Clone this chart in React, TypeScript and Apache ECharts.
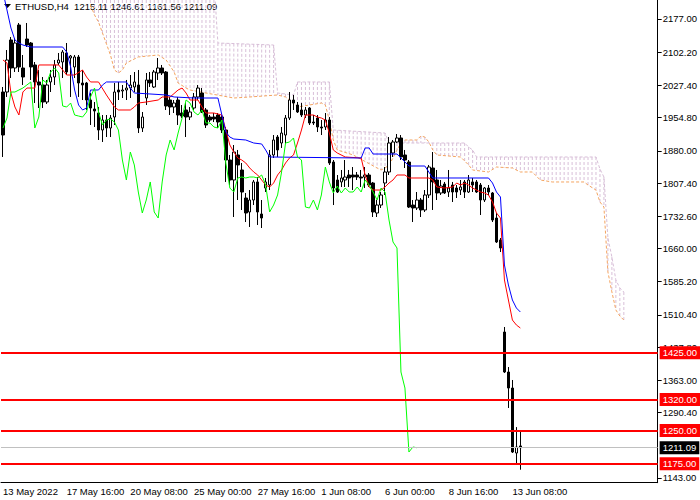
import { useEffect, useRef } from 'react';
import * as echarts from 'echarts';

const FONT = '"Liberation Sans", Arial, sans-serif';
const symbolName = 'ETHUSD,H4';

// one slot per H4 bar, labels every 16 bars
const SLOT_COUNT = 165;
const LABEL_STEP = 16;
const timeLabels = [
  '13 May 2022',
  '17 May 16:00',
  '20 May 08:00',
  '25 May 00:00',
  '27 May 16:00',
  '1 Jun 08:00',
  '6 Jun 00:00',
  '8 Jun 16:00',
  '13 Jun 08:00',
];

const PRICE_MIN = 1132.3;
const PRICE_MAX = 2219.8;
const priceTicks = [
  2177.0, 2102.2, 2027.4, 1954.8, 1880.0, 1807.4, 1732.6, 1660.0, 1585.2, 1510.4, 1437.8,
  1363.0, 1290.4, 1143.0,
];
const levels = [1425, 1320, 1250, 1175];

// [open, high, low, close]
const candles: number[][] = [
  [2012.5, 2023.8, 1866.1, 1915.6], [2012.5, 2107.1, 2001.3, 2084.6], [2129.7, 2136.4, 2044.1, 2066.6],
  [2066.6, 2134.2, 2057.6, 2122.9], [2163.5, 2168.0, 2057.6, 2068.9], [2066.6, 2095.9, 2028.3, 2046.3],
  [2131.9, 2168.0, 2113.9, 2118.4], [2122.9, 2125.2, 2039.6, 2068.9], [2073.4, 2080.1, 1987.7, 2035.1],
  [2035.1, 2062.1, 1976.5, 2028.3], [2028.3, 2046.3, 1976.5, 1990.0], [1990.0, 2039.6, 1985.5, 2028.3],
  [2035.1, 2062.1, 2012.5, 2046.3], [2046.3, 2084.6, 2028.3, 2073.4], [2077.9, 2100.4, 2073.4, 2084.6],
  [2080.1, 2107.1, 2044.1, 2102.6], [2100.4, 2122.9, 2050.8, 2057.6], [2089.1, 2095.9, 2001.3, 2093.6],
  [2068.9, 2095.9, 2044.1, 2091.4], [2091.4, 2095.9, 2001.3, 2032.8], [2032.8, 2062.1, 1994.5, 2028.3],
  [2032.8, 2035.1, 1972.0, 1994.5], [1994.5, 2010.3, 1938.2, 1976.5], [1974.2, 1990.0, 1933.7, 1969.7],
  [1965.2, 1978.7, 1904.4, 1926.9], [1926.9, 1960.7, 1899.9, 1949.4], [1949.4, 1960.7, 1911.1, 1931.4],
  [1931.4, 1960.7, 1911.1, 1953.9], [1956.2, 2032.8, 1938.2, 2012.5], [2017.0, 2035.1, 1994.5, 2012.5],
  [2014.8, 2028.3, 1999.0, 2017.0], [2017.0, 2039.6, 1994.5, 2021.5], [2021.5, 2050.8, 1999.0, 2028.3],
  [2023.8, 2057.6, 2012.5, 2035.1], [2028.3, 2062.1, 1920.1, 1931.4], [1931.4, 1967.5, 1922.4, 1956.2],
  [1999.0, 2055.3, 1983.2, 2039.6], [2039.6, 2057.6, 2023.8, 2032.8], [2023.8, 2062.1, 2021.5, 2057.6],
  [2055.3, 2089.1, 2039.6, 2066.6], [2066.6, 2073.4, 2050.8, 2055.3], [2057.6, 2059.8, 1972.0, 1981.0],
  [1994.5, 2001.3, 1960.7, 1978.7], [1978.7, 1994.5, 1965.2, 1987.7], [1994.5, 2001.3, 1938.2, 1960.7],
  [1965.2, 1983.2, 1953.9, 1958.4], [1972.0, 1987.7, 1911.1, 1956.2], [1956.2, 1978.7, 1949.4, 1967.5],
  [1976.5, 2010.3, 1972.0, 2001.3], [2001.3, 2028.3, 1994.5, 2021.5], [2010.3, 2021.5, 1965.2, 1967.5],
  [1972.0, 1976.5, 1931.4, 1938.2], [1956.2, 1960.7, 1944.9, 1949.4], [1956.2, 1965.2, 1944.9, 1951.7],
  [1960.7, 1965.2, 1931.4, 1944.9], [1956.2, 1960.7, 1920.1, 1926.9], [1926.9, 1933.7, 1809.8, 1859.3],
  [1859.3, 1870.6, 1803.0, 1814.3], [1814.3, 1893.1, 1730.9, 1877.3], [1870.6, 1881.9, 1769.2, 1848.1],
  [1836.8, 1852.6, 1746.7, 1787.2], [1773.7, 1785.0, 1719.6, 1739.9], [1742.2, 1791.7, 1708.4, 1769.2],
  [1769.2, 1814.3, 1757.9, 1809.8], [1809.8, 1821.0, 1712.9, 1742.2], [1737.7, 1769.2, 1706.1, 1728.6],
  [1796.2, 1818.8, 1787.2, 1809.8], [1803.0, 1881.9, 1791.7, 1870.6], [1870.6, 1915.6, 1863.8, 1904.4],
  [1911.1, 1915.6, 1866.1, 1881.9], [1897.6, 1933.7, 1886.4, 1920.1], [1915.6, 1960.7, 1897.6, 1953.9],
  [1953.9, 2012.5, 1949.4, 1994.5], [1994.5, 2005.8, 1972.0, 1987.7], [1983.2, 1990.0, 1965.2, 1967.5],
  [1972.0, 1987.7, 1956.2, 1960.7], [1960.7, 1978.7, 1953.9, 1972.0], [1976.5, 1978.7, 1938.2, 1942.7],
  [1944.9, 1960.7, 1938.2, 1942.7], [1953.9, 1960.7, 1922.4, 1933.7], [1933.7, 1949.4, 1915.6, 1931.4],
  [1933.7, 1965.2, 1926.9, 1949.4], [1949.4, 1956.2, 1848.1, 1852.6], [1854.8, 1859.3, 1757.9, 1796.2],
  [1814.3, 1825.5, 1785.0, 1787.2], [1809.8, 1836.8, 1798.5, 1818.8], [1814.3, 1859.3, 1798.5, 1821.0],
  [1825.5, 1836.8, 1798.5, 1818.8], [1825.5, 1843.5, 1791.7, 1821.0], [1825.5, 1832.3, 1814.3, 1821.0],
  [1821.0, 1836.8, 1798.5, 1818.8], [1821.0, 1843.5, 1796.2, 1825.5], [1825.5, 1830.0, 1798.5, 1803.0],
  [1807.5, 1809.8, 1730.9, 1742.2], [1739.9, 1769.2, 1730.9, 1757.9], [1757.9, 1787.2, 1751.2, 1780.5],
  [1807.5, 1843.5, 1780.5, 1832.3], [1832.3, 1911.1, 1825.5, 1897.6], [1875.1, 1904.4, 1866.1, 1899.9],
  [1899.9, 1917.9, 1897.6, 1908.9], [1908.9, 1915.6, 1859.3, 1866.1], [1870.6, 1881.9, 1841.3, 1859.3],
  [1854.8, 1859.3, 1751.2, 1753.4], [1757.9, 1769.2, 1719.6, 1751.2], [1751.2, 1787.2, 1746.7, 1769.2],
  [1769.2, 1773.7, 1730.9, 1746.7], [1746.7, 1791.7, 1742.2, 1780.5], [1780.5, 1848.1, 1773.7, 1843.5],
  [1841.3, 1877.3, 1746.7, 1809.8], [1814.3, 1836.8, 1769.2, 1785.0], [1785.0, 1814.3, 1780.5, 1800.7],
  [1805.2, 1809.8, 1782.7, 1785.0], [1787.2, 1836.8, 1776.0, 1796.2], [1803.0, 1809.8, 1764.7, 1787.2],
  [1796.2, 1803.0, 1773.7, 1787.2], [1791.7, 1814.3, 1780.5, 1798.5], [1809.8, 1814.3, 1773.7, 1787.2],
  [1787.2, 1825.5, 1785.0, 1814.3], [1809.8, 1818.8, 1787.2, 1803.0], [1809.8, 1814.3, 1785.0, 1787.2],
  [1803.0, 1807.5, 1735.4, 1769.2], [1769.2, 1798.5, 1764.7, 1796.2], [1796.2, 1803.0, 1780.5, 1787.2],
  [1785.0, 1787.2, 1719.6, 1724.1], [1728.6, 1739.9, 1672.3, 1674.6], [1679.1, 1683.6, 1652.0, 1661.1],
  [1471.8, 1483.1, 1379.4, 1381.7], [1381.7, 1392.9, 1300.6, 1345.6], [1345.6, 1363.7, 1199.2, 1201.4],
  [1199.2, 1257.6, 1176.6, 1212.7], [1215.11, 1246.61, 1161.56, 1211.09],
];

// Ichimoku lines: [bar index, price]
const tenkan: number[][] = [
  [0, 2084.6], [1, 2077.9], [2, 2010.3], [3, 1978.7], [4, 1960.7], [5, 2012.5], [6, 2021.5], [8, 2021.5],
  [9, 2073.4], [14, 2073.4], [15, 2062.1], [16, 2050.8], [18, 2050.8], [20, 2062.1], [21, 2046.3],
  [22, 2035.1], [24, 2035.1], [26, 2005.8], [28, 1978.7], [29, 1972.0], [32, 1972.0], [33, 1978.7],
  [34, 1987.7], [36, 1990.0], [39, 1994.5], [40, 2001.3], [42, 2001.3], [44, 2017.0], [45, 2021.5],
  [46, 2010.3], [47, 1994.5], [49, 1994.5], [50, 1978.7], [51, 1965.2], [53, 1965.2], [55, 1960.7],
  [56, 1926.9], [57, 1893.1], [58, 1877.3], [59, 1863.8], [60, 1859.3], [61, 1852.6], [62, 1841.3],
  [63, 1832.3], [64, 1825.5], [65, 1814.3], [66, 1803.0], [67, 1798.5], [68, 1807.5], [69, 1825.5],
  [70, 1836.8], [71, 1852.6], [72, 1863.8], [73, 1870.6], [74, 1897.6], [75, 1926.9], [76, 1960.7],
  [78, 1960.7], [79, 1956.2], [80, 1953.9], [81, 1949.4], [82, 1920.1], [83, 1881.9], [84, 1875.1],
  [86, 1866.1], [90, 1863.8], [91, 1825.5], [92, 1798.5], [93, 1791.7], [95, 1791.7], [96, 1798.5],
  [97, 1807.5], [98, 1814.3], [99, 1825.5], [101, 1825.5], [102, 1818.8], [107, 1818.8], [108, 1814.3],
  [109, 1798.5], [111, 1796.2], [113, 1798.5], [114, 1807.5], [115, 1803.0], [116, 1807.5], [117, 1803.0],
  [118, 1796.2], [119, 1791.7], [120, 1787.2], [121, 1785.0], [122, 1780.5], [123, 1764.7], [124, 1739.9],
  [125, 1728.6], [126, 1589.0], [127, 1543.9], [128, 1498.8], [129, 1487.6], [130, 1480.8],
];

const kijun: number[][] = [
  [0, 2237.8], [1, 2197.3], [2, 2156.7], [3, 2129.7], [4, 2122.9], [5, 2118.4], [7, 2113.9], [15, 2113.9],
  [16, 2102.6], [17, 2068.9], [18, 2017.0], [19, 1983.2], [20, 1972.0], [21, 1976.5], [22, 2017.0],
  [24, 2017.0], [25, 2028.3], [26, 2035.1], [31, 2035.1], [32, 2021.5], [33, 2010.3], [41, 2005.8],
  [43, 2001.3], [48, 1999.0], [54, 1999.0], [55, 1960.7], [56, 1922.4], [57, 1911.1], [58, 1906.6],
  [61, 1904.4], [63, 1897.6], [65, 1895.4], [66, 1881.9], [67, 1866.1], [90, 1863.8], [91, 1886.4],
  [92, 1886.4], [93, 1872.8], [99, 1872.8], [100, 1863.8], [101, 1854.8], [102, 1845.8], [106, 1845.8],
  [107, 1832.3], [108, 1818.8], [122, 1818.8], [123, 1807.5], [124, 1787.2], [125, 1776.0], [126, 1622.8],
  [127, 1577.7], [128, 1543.9], [129, 1525.9], [130, 1516.9],
];

const senkouA: number[][] = [
  [22, 2208.5], [23, 2186.0], [24, 2170.2], [25, 2145.5], [27, 2095.9], [28, 2062.1], [29, 2055.3],
  [30, 2062.1], [31, 2077.9], [34, 2091.4], [39, 2095.9], [41, 2084.6], [43, 2057.6], [44, 2032.8],
  [46, 2021.5], [47, 2017.0], [51, 2010.3], [58, 1999.0], [62, 2001.3], [69, 2005.8], [71, 2001.3],
  [72, 1994.5], [74, 1978.7], [80, 1987.7], [81, 1983.2], [82, 1949.4], [83, 1904.4], [84, 1881.9],
  [88, 1870.6], [94, 1841.3], [95, 1836.8], [96, 1841.3], [97, 1848.1], [98, 1863.8], [99, 1881.9],
  [100, 1897.6], [101, 1904.4], [104, 1904.4], [105, 1913.4], [106, 1911.1], [107, 1899.9], [108, 1881.9],
  [109, 1870.6], [115, 1866.1], [117, 1848.1], [118, 1836.8], [122, 1832.3], [124, 1843.5], [128, 1841.3],
  [130, 1832.3], [133, 1832.3], [135, 1814.3], [138, 1809.8], [146, 1809.8], [147, 1803.0], [149, 1791.7],
  [150, 1764.7], [151, 1753.4], [152, 1607.0], [153, 1562.0], [154, 1521.4], [155, 1507.8], [156, 1498.8],
];

const senkouB: number[][] = [
  [22, 2264.9], [53, 2264.9], [54, 2122.9], [68, 2118.4], [69, 2010.3], [73, 2005.8], [74, 2035.1],
  [82, 2035.1], [83, 1926.9], [96, 1920.1], [97, 1897.6], [116, 1897.6], [117, 1888.6], [118, 1881.9],
  [119, 1866.1], [149, 1866.1], [150, 1839.0], [151, 1821.0], [152, 1683.6], [153, 1640.8], [154, 1589.0],
  [155, 1571.0], [156, 1561.9],
];

const CHIKOU_SHIFT = 26;

function lineAt(pts: number[][], k: number): number | null {
  for (let j = 0; j < pts.length - 1; j++) {
    const [x0, y0] = pts[j];
    const [x1, y1] = pts[j + 1];
    if (k >= x0 && k <= x1) return x1 === x0 ? y0 : y0 + ((y1 - y0) * (k - x0)) / (x1 - x0);
  }
  return null;
}

export default function App() {
  const ref = useRef<HTMLDivElement | null>(null);

  useEffect(() => {
    document.body.style.margin = '0';
    if (!ref.current) return;
    const chart = echarts.init(ref.current, undefined, { renderer: 'svg' });

    const last = candles[candles.length - 1];
    const categories = Array.from({ length: SLOT_COUNT }, (_, i) => String(i));
    const chikou = candles.slice(CHIKOU_SHIFT).map((c, i) => [i, c[3]]);
    const showTime = (idx: number) =>
      idx % LABEL_STEP === 0 && idx / LABEL_STEP < timeLabels.length;

    const thinLine = (data: number[][], color: string, dashed = false, z = 3) => ({
      type: 'line',
      data,
      symbol: 'none',
      z,
      silent: true,
      lineStyle: { color, width: 1, type: dashed ? [3, 2] : 'solid' },
    });

    const option: any = {
      animation: false,
      backgroundColor: '#ffffff',
      grid: { left: -1.5, right: 41.5, top: 0, bottom: 17.3 },
      graphic: [
        {
          type: 'polygon',
          shape: { points: [[4, 4], [11, 4], [7.5, 8]] },
          style: { fill: '#000' },
        },
        {
          type: 'text',
          x: 15,
          y: 6,
          style: {
            text: `${symbolName}  ${last.map((v) => v.toFixed(2)).join(' ')}`,
            fill: '#000',
            fontSize: 9.5,
            fontFamily: FONT,
            verticalAlign: 'middle',
          },
        },
      ],
      xAxis: {
        type: 'category',
        data: categories,
        boundaryGap: true,
        axisLine: { lineStyle: { color: '#000', width: 1 } },
        axisTick: {
          alignWithLabel: true,
          interval: (idx: number) => showTime(idx),
          length: 4,
          lineStyle: { color: '#000' },
        },
        axisLabel: {
          interval: (idx: number) => showTime(idx),
          formatter: (_v: string, idx: number) => timeLabels[idx / LABEL_STEP] ?? '',
          align: 'left',
          margin: 4,
          color: '#000',
          fontSize: 9.5,
          fontFamily: FONT,
        },
        splitLine: { show: false },
      },
      yAxis: {
        type: 'value',
        position: 'right',
        min: PRICE_MIN,
        max: PRICE_MAX,
        axisLine: { show: true, lineStyle: { color: '#000', width: 1 } },
        axisTick: { show: true, customValues: priceTicks, length: 4, lineStyle: { color: '#000' } },
        axisLabel: {
          customValues: priceTicks,
          formatter: (v: number) => v.toFixed(2),
          margin: 5,
          color: '#000',
          fontSize: 9.5,
          fontFamily: FONT,
        },
        splitLine: { show: false },
      },
      series: [
        {
          // kumo hatch: dotted vertical strokes between the two spans
          type: 'custom',
          silent: true,
          clip: true,
          z: 1,
          data: [[0, 0]],
          renderItem: (_params: any, api: any) => {
            const children: any[] = [];
            const from = Math.max(senkouA[0][0], senkouB[0][0]);
            const to = Math.min(senkouA[senkouA.length - 1][0], senkouB[senkouB.length - 1][0]);
            for (let k = from; k <= to; k++) {
              const a = lineAt(senkouA, k);
              const b = lineAt(senkouB, k);
              if (a == null || b == null) continue;
              const hi = Math.min(Math.max(a, b), PRICE_MAX);
              const lo = Math.max(Math.min(a, b), PRICE_MIN);
              if (hi <= lo) continue;
              const p1 = api.coord([k, hi]);
              const p2 = api.coord([k, lo]);
              children.push({
                type: 'line',
                shape: { x1: p1[0], y1: p1[1], x2: p2[0], y2: p2[1] },
                style: { stroke: '#d8bfd8', lineWidth: 1, lineDash: [3, 2] },
              });
            }
            return { type: 'group', children };
          },
        },
        thinLine(senkouA, '#f4a460', true, 1),
        thinLine(senkouB, '#d8bfd8', true, 1),
        {
          type: 'candlestick',
          data: candles.map(([o, h, l, c]) => [o, c, l, h]),
          barWidth: 3,
          z: 2,
          silent: true,
          itemStyle: {
            color: '#ffffff',
            color0: '#000000',
            borderColor: '#000000',
            borderColor0: '#000000',
            borderWidth: 1,
          },
          markLine: {
            silent: true,
            symbol: 'none',
            z: 5,
            label: {
              show: true,
              position: 'end',
              distance: 2,
              formatter: (p: any) => Number(p.value).toFixed(2),
              color: '#ffffff',
              fontSize: 9.5,
              fontFamily: FONT,
              padding: [2, 3, 1, 3],
            },
            data: [
              ...levels.map((v) => ({
                yAxis: v,
                lineStyle: { color: '#ff0000', width: 2, type: 'solid' },
                label: { backgroundColor: '#ff0000' },
              })),
              {
                yAxis: last[3],
                lineStyle: { color: '#c0c0c0', width: 1, type: 'solid' },
                label: { backgroundColor: '#000000' },
              },
            ],
          },
        },
        thinLine(tenkan, '#ff0000'),
        thinLine(kijun, '#0000ff'),
        thinLine(chikou, '#00ff00'),
      ],
    };

    chart.setOption(option);
    return () => {
      chart.dispose();
    };
  }, []);

  return <div ref={ref} style={{ width: 700, height: 500 }} />;
}
